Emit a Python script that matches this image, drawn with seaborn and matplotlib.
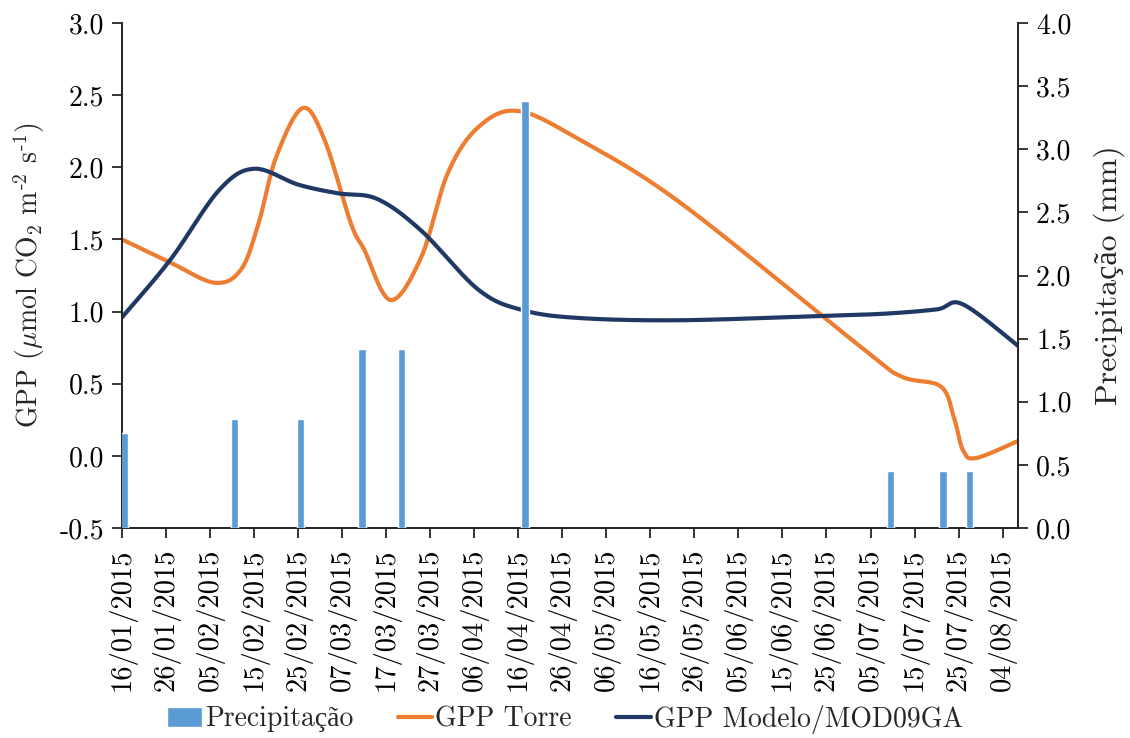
import numpy as np
import pandas as pd
import matplotlib
matplotlib.use("Agg")
import matplotlib.pyplot as plt
import matplotlib.dates as mdates
from matplotlib.ticker import FixedLocator, FuncFormatter
import seaborn as sns

# ---- data -------------------------------------------------------------
torre_dates = ["2015-01-16", "2015-01-27", "2015-02-06", "2015-02-12", "2015-02-16",
               "2015-02-20", "2015-02-26", "2015-03-03", "2015-03-09", "2015-03-12",
               "2015-03-18", "2015-03-25", "2015-03-31", "2015-04-07", "2015-04-16",
               "2015-04-30", "2015-05-23", "2015-07-03", "2015-07-12",
               "2015-07-21", "2015-07-24", "2015-07-26", "2015-07-29", "2015-08-08"]
torre_gpp = [1.50, 1.34, 1.20, 1.29, 1.61,
             2.07, 2.41, 2.19, 1.61, 1.43,
             1.08, 1.38, 1.96, 2.28, 2.39,
             2.19, 1.75, 0.75, 0.55,
             0.48, 0.26, 0.04, -0.015, 0.11]

modelo_dates = ["2015-01-16", "2015-01-27", "2015-02-07", "2015-02-15", "2015-02-25",
                "2015-03-06", "2015-03-15", "2015-03-25",
                "2015-04-07", "2015-04-17", "2015-04-30", "2015-05-23", "2015-06-24",
                "2015-07-08", "2015-07-20", "2015-07-26", "2015-08-08"]
modelo_gpp = [0.96, 1.36, 1.84, 1.99, 1.88,
              1.82, 1.78, 1.56,
              1.15, 1.01, 0.955, 0.94, 0.97,
              0.985, 1.015, 1.05, 0.75]

precip_dates = ["2015-01-16", "2015-02-10", "2015-02-25", "2015-03-11", "2015-03-20",
                "2015-04-17", "2015-07-09", "2015-07-21", "2015-07-27"]
precip_mm = [0.75, 0.86, 0.86, 1.42, 1.42, 3.38, 0.45, 0.45, 0.45]

tick_dates = pd.date_range("2015-01-16", "2015-08-04", freq="10D")
gpp_ticks = [-0.5, 0.0, 0.5, 1.0, 1.5, 2.0, 2.5, 3.0]
precip_ticks = [0.0, 0.5, 1.0, 1.5, 2.0, 2.5, 3.0, 3.5, 4.0]

C_PRECIP = "#5B9BD5"
C_TORRE = "#ED7D31"
C_MODELO = "#203864"
C_AXIS = "#262626"


def smoothed(dates, values, steps=30):
    """Cubic Bezier through the points (Catmull-Rom tangents), as in a smoothed line chart."""
    x = mdates.date2num(pd.to_datetime(dates).to_pydatetime())
    P = np.column_stack([x, np.asarray(values, float)])
    E = np.vstack([P[0], P, P[-1]])
    xs, ys = [], []
    n = len(P) - 1
    for i in range(n):
        p0, p1, p2, p3 = E[i], E[i + 1], E[i + 2], E[i + 3]
        c1 = p1 + (p2 - p0) / 6.0
        c2 = p2 - (p3 - p1) / 6.0
        s = np.linspace(0, 1, steps, endpoint=(i == n - 1))[:, None]
        b = ((1 - s) ** 3) * p1 + 3 * ((1 - s) ** 2) * s * c1 + 3 * (1 - s) * s ** 2 * c2 + s ** 3 * p2
        xs.append(b[:, 0])
        ys.append(b[:, 1])
    xs = np.concatenate(xs)
    ys = np.concatenate(ys)
    return pd.DataFrame({"date": pd.to_datetime(mdates.num2date(xs)).tz_localize(None), "gpp": ys})


sns.set_theme(style="ticks")
plt.rcParams["font.family"] = ["cmr10", "Liberation Serif"]
plt.rcParams["mathtext.fontset"] = "cm"
plt.rcParams["axes.unicode_minus"] = False
plt.rcParams["font.size"] = 20

fig = plt.figure(figsize=(11.3, 7.38), dpi=100)
ax = fig.add_axes([122 / 1130, 1 - 528 / 738, (1018 - 122) / 1130, (528 - 23) / 738])
ax2 = ax.twinx()

torre_df = smoothed(torre_dates, torre_gpp)
modelo_df = smoothed(modelo_dates, modelo_gpp)

sns.lineplot(data=torre_df, x="date", y="gpp", ax=ax, sort=False, estimator=None,
             color=C_TORRE, linewidth=3.0, label="GPP Torre")
sns.lineplot(data=modelo_df, x="date", y="gpp", ax=ax, sort=False, estimator=None,
             color=C_MODELO, linewidth=3.0, label="GPP Modelo/MOD09GA")

# columns sit in the middle of their day slot
bar_x = pd.to_datetime(precip_dates) + pd.Timedelta(hours=12)
bars = ax2.bar(bar_x, precip_mm, width=1.7, color=C_PRECIP, label="Precipitação", zorder=3)

x0 = pd.Timestamp("2015-01-16")
x1 = x0 + pd.Timedelta(days=203.5)
ax.set_xlim(x0, x1)
ax.set_ylim(-0.5, 3.0)
ax2.set_ylim(0.0, 4.0)

ax.xaxis.set_major_locator(FixedLocator(mdates.date2num(tick_dates.to_pydatetime())))
ax.xaxis.set_major_formatter(mdates.DateFormatter("%d/%m/%Y"))
ax.set_yticks(gpp_ticks)
ax.yaxis.set_major_formatter(FuncFormatter(lambda v, p: f"{v:.1f}"))
ax2.set_yticks(precip_ticks)
ax2.yaxis.set_major_formatter(FuncFormatter(lambda v, p: f"{v:.1f}"))

ax.set_xlabel("")
ax.set_ylabel("GPP ($\\mu$mol CO$_2$ m$^{\\text{-}2}$ s$^{\\text{-}1}$)", fontsize=20, labelpad=9)
ax2.set_ylabel("Precipitação (mm)", fontsize=23, labelpad=16)

for a in (ax, ax2):
    a.tick_params(axis="both", direction="out", length=7, width=1.3, colors=C_AXIS,
                  labelsize=20, labelcolor="black", pad=6)
    for side in ("left", "right", "bottom"):
        a.spines[side].set_visible(True)
        a.spines[side].set_color(C_AXIS)
        a.spines[side].set_linewidth(1.3)
    a.spines["top"].set_visible(False)
ax.tick_params(axis="x", pad=8, labelsize=20.5)
for lab in ax.get_xticklabels():
    lab.set_rotation(90)
ax.grid(False)
ax2.grid(False)

# gather the handles of both axes in one legend under the plot
line_handles, line_labels = ax.get_legend_handles_labels()
if ax.get_legend() is not None:
    ax.get_legend().remove()
handles = [bars] + line_handles
labels = ["Precipitação"] + line_labels
fig.legend(handles, labels, loc="center", bbox_to_anchor=(565 / 1130, 19 / 738), ncol=3,
           frameon=False, fontsize=20, handlelength=1.25, handleheight=0.72,
           handletextpad=0.1, columnspacing=1.6, borderaxespad=0)

fig.savefig("out.png", dpi=100)
